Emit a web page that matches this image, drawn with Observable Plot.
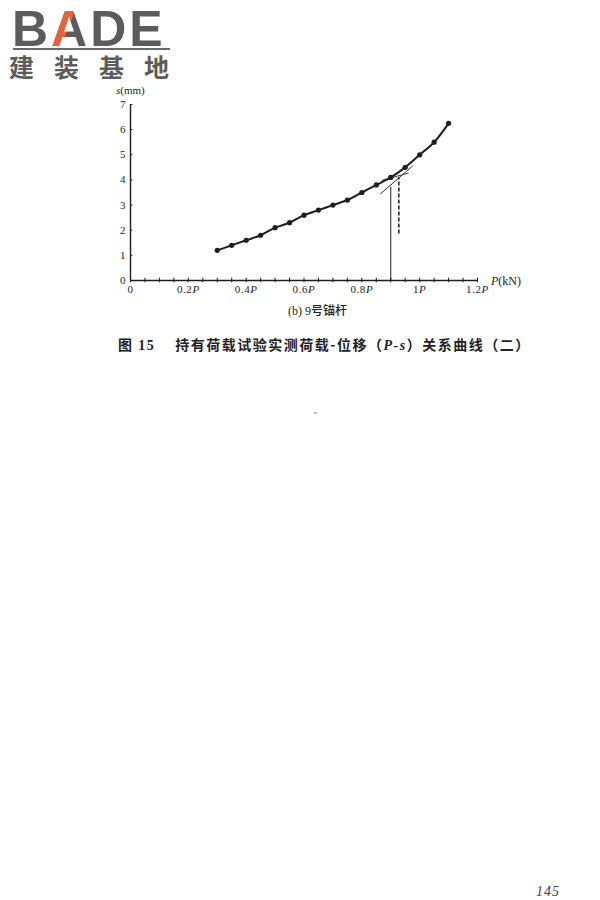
<!DOCTYPE html>
<html><head><meta charset="utf-8">
<script src="https://cdn.jsdelivr.net/npm/d3@7"></script>
<script src="https://cdn.jsdelivr.net/npm/@observablehq/plot@0.6"></script>
<style>
html,body{margin:0;padding:0;background:#fff;}
#page{position:relative;width:600px;height:900px;overflow:hidden;background:#fff;}
.abs{position:absolute;white-space:nowrap;}
#chart{position:absolute;left:0;top:0;}
</style></head><body><div id="page">
<div class="abs" style="left:12px;top:0px;font:bold 50px 'Liberation Sans',sans-serif;letter-spacing:3px;line-height:58px;height:50px;overflow:visible;color:#5c5c5c;">B<span style="background:linear-gradient(110deg,#5c5c5c 0 30%,#e2643c 30% 46%,#5c5c5c 46%);-webkit-background-clip:text;background-clip:text;color:transparent;">A</span>DE</div>
<div class="abs" style="left:13px;top:48px;width:157px;height:2px;background:#6a6a6a;"></div>
<div class="abs" style="left:9px;top:50.5px;font:bold 25px 'Noto Sans CJK SC',sans-serif;letter-spacing:20px;line-height:30px;color:#5c5c5c;">建装基<span style="letter-spacing:0">地</span></div>
<div class="abs" style="left:116px;top:83.8px;font:11px 'Liberation Serif',serif;color:#222;line-height:12px;"><i>s</i>(mm)</div>
<div class="abs" style="left:491px;top:274px;font:12px 'Liberation Serif',serif;color:#222;line-height:14px;"><i>P</i>(kN)</div>
<div class="abs" style="left:288px;top:302px;font:12px 'Liberation Serif','Noto Sans CJK SC',serif;color:#222;line-height:16px;">(b) 9<span style="font-family:'Noto Sans CJK SC';font-weight:500;">号锚杆</span></div>
<div class="abs" style="left:118px;top:335px;font:bold 14px 'Noto Sans CJK SC',sans-serif;color:#222;line-height:18px;letter-spacing:1.5px;">图 <span style="font-family:'Liberation Serif'">15</span>　 持有荷载试验实测荷载-位移（<i style="font-family:'Liberation Serif'">P-s</i>）关系曲线（二）</div>
<div class="abs" style="left:314px;top:412px;width:3px;height:2px;background:#bbb;"></div>
<div class="abs" style="left:536px;top:884px;font:italic 14px 'Liberation Serif',serif;color:#444;letter-spacing:1px;line-height:16px;">145</div>
</div>
<script>
// measured load (fraction of P) and displacement s (mm)
const loadP = [0.30,0.35,0.40,0.45,0.50,0.55,0.60,0.65,0.70,0.75,0.80,0.85,0.90,0.95,1.00,1.05,1.10];
const dispS = [1.2,1.4,1.6,1.8,2.1,2.3,2.6,2.8,3.0,3.2,3.5,3.8,4.1,4.5,5.0,5.5,6.25];
// tangent construction lines
const tangentFlatP = [0.87,0.96];
const tangentFlatS = [3.98,4.27];
const tangentSteepP = [0.865,0.975];
const tangentSteepS = [3.45,4.55];
// vertical markers
const solidMarkP = 0.9, solidMarkTop = 3.7;
const dashMarkP = 0.928, dashMarkBottom = 1.85, dashMarkTop = 4.1;
// ticks
const xLabelTicks = [0,0.2,0.4,0.6,0.8,1.0,1.2];
const xMinorTicks = d3.range(0,25).map(i => i*0.05);
const yTicks = [0,1,2,3,4,5,6,7];

const pts = loadP.map((p,i)=>({p, s: dispS[i]}));
const flat = tangentFlatP.map((p,i)=>({p, s: tangentFlatS[i]}));
const steep = tangentSteepP.map((p,i)=>({p, s: tangentSteepS[i]}));
const ink = "#1e1e1e";

const chart = Plot.plot({
  width: 600, height: 330,
  marginTop: 104, marginBottom: 50, marginLeft: 130, marginRight: 123,
  x: {domain: [0,1.2], label: null},
  y: {domain: [0,7], label: null},
  style: {fontFamily: "'Liberation Serif', serif", fontSize: "11px", color: ink, background: "transparent"},
  marks: [
    Plot.ruleY([0], {x1: 0, x2: 1.2, stroke: ink, strokeWidth: 1.4}),
    Plot.ruleX([0], {y1: 0, y2: 7, stroke: ink, strokeWidth: 1.4}),
    Plot.ruleX(xMinorTicks, {x: d=>d, y1: -0.09, y2: 0.09, stroke: ink, strokeWidth: 1}),
    Plot.ruleY(yTicks, {y: d=>d, x1: 0, x2: 0.008, stroke: ink, strokeWidth: 1}),
    Plot.axisX({ticks: xLabelTicks, tickSize: 0, tickPadding: 5, label: null, tickFormat: d => d === 0 ? "0" : d3.format("~g")(d) + "P"}),
    Plot.axisY({ticks: yTicks, tickSize: 0, tickPadding: 5, label: null, tickFormat: d3.format("d")}),
    Plot.ruleX([solidMarkP], {x: d=>d, y1: 0, y2: solidMarkTop, stroke: ink, strokeWidth: 1}),
    Plot.ruleX([dashMarkP], {x: d=>d, y1: dashMarkBottom, y2: dashMarkTop, stroke: ink, strokeWidth: 1.5, strokeDasharray: "4,2"}),
    Plot.line(flat, {x: "p", y: "s", stroke: ink, strokeWidth: 0.9}),
    Plot.line(steep, {x: "p", y: "s", stroke: ink, strokeWidth: 0.9}),
    Plot.line(pts, {x: "p", y: "s", curve: "catmull-rom", stroke: ink, strokeWidth: 2}),
    Plot.dot(pts, {x: "p", y: "s", r: 2.6, fill: ink, stroke: "none"})
  ]
});
chart.id = "chart";
document.getElementById("page").appendChild(chart);
chart.querySelectorAll('[aria-label="x-axis tick label"] text').forEach(t => {
  const s = t.textContent;
  if (s.endsWith("P")) {
    t.textContent = s.slice(0,-1);
    const ts = document.createElementNS("http://www.w3.org/2000/svg","tspan");
    ts.setAttribute("font-style","italic");
    ts.textContent = "P";
    t.appendChild(ts);
  }
  t.setAttribute("letter-spacing","0.6");
});
</script>
</body></html>
